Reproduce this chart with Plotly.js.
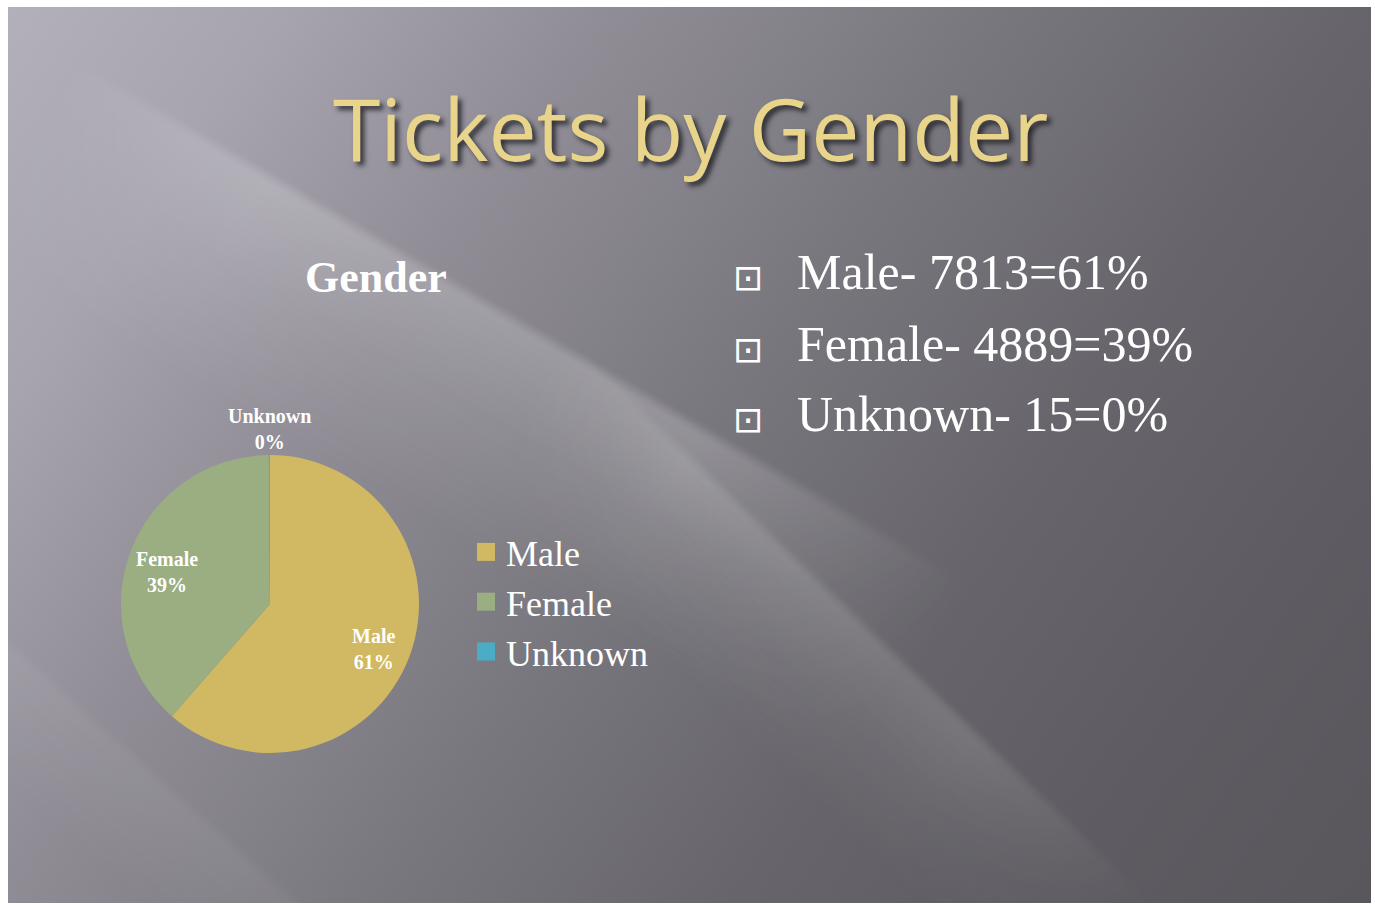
<!DOCTYPE html>
<html>
<head>
<meta charset="utf-8">
<script src="https://cdn.plot.ly/plotly-3.0.1.min.js"></script>
<style>
  html, body { margin: 0; padding: 0; background: #ffffff; }
  #slide {
    position: absolute; left: 8px; top: 7px; width: 1363px; height: 896px; overflow: hidden;
    background: linear-gradient(125deg, #b3b0bb 0%, #a7a4af 14%, #908d96 30%, #79777e 50%, #67656b 68%, #5e5c62 84%, #59575c 100%);
  }
  .streak {
    position: absolute; transform-origin: 0 0;
    -webkit-mask-image: linear-gradient(to right, transparent 0%, #000 22%, #000 70%, transparent 100%);
    mask-image: linear-gradient(to right, transparent 0%, #000 22%, #000 70%, transparent 100%);
    filter: blur(2px);
  }
  #s1 { left: 60px; top: 45px; width: 1050px; height: 230px; transform: rotate(30.3deg);
        background: linear-gradient(to bottom, rgba(255,255,255,0) 0%, rgba(255,255,255,0.20) 5%, rgba(255,255,255,0.09) 45%, rgba(255,255,255,0) 100%); }
  #s2 { left: 560px; top: 325px; width: 820px; height: 170px; transform: rotate(44deg);
        background: linear-gradient(to bottom, rgba(255,255,255,0) 0%, rgba(255,255,255,0.13) 6%, rgba(255,255,255,0.05) 50%, rgba(255,255,255,0) 100%); }
  #s3 { left: -120px; top: 520px; width: 700px; height: 120px; transform: rotate(42deg);
        background: linear-gradient(to bottom, rgba(255,255,255,0) 0%, rgba(255,255,255,0.06) 10%, rgba(255,255,255,0) 100%); }
  #chart { position: absolute; left: 0; top: 0; width: 1375px; height: 905px; }
</style>
</head>
<body>
<div id="slide">
  <div class="streak" id="s1"></div>
  <div class="streak" id="s2"></div>
  <div class="streak" id="s3"></div>
</div>
<div id="chart"></div>
<script>
// Data
const categories = ['Male', 'Female', 'Unknown'];
const tickets = [7813, 4889, 15];
const shownPercent = ['61%', '39%', '0%'];
const sliceColors = ['#d1b862', '#9bae82', '#4bacc6'];
const bulletLines = ['Male- 7813=61%', 'Female- 4889=39%', 'Unknown- 15=0%'];

const W = 1375, H = 905;
const cx = 270, cy = 604, r = 149;

const pie = {
  type: 'pie',
  labels: categories,
  values: tickets,
  textinfo: 'none',
  sort: false,
  direction: 'clockwise',
  rotation: 0,
  marker: { colors: sliceColors, line: { width: 0 } },
  domain: { x: [(cx - r) / W, (cx + r) / W], y: [(H - cy - r) / H, (H - cy + r) / H] },
  hoverinfo: 'label+value+percent',
  showlegend: true
};

const serif = 'Liberation Serif, DejaVu Serif, serif';
const annotations = [
  {
    text: 'Tickets by Gender', x: 690 / W, y: 1 - 127 / H, xref: 'paper', yref: 'paper',
    showarrow: false, xanchor: 'center', yanchor: 'middle',
    font: { family: 'Open Sans, Lato, sans-serif', size: 86, color: '#e8d58b', shadow: '4px 4px 5px rgba(20,20,25,0.75)' }
  },
  {
    text: '<b>Gender</b>', x: 376 / W, y: 1 - 277 / H, xref: 'paper', yref: 'paper',
    showarrow: false, xanchor: 'center', yanchor: 'middle',
    font: { family: serif, size: 44, color: '#ffffff' }
  }
];

// slice labels, placed at each slice's mid-angle (derived from the data)
const total = tickets.reduce((a, b) => a + b, 0);
let cum = 0;
tickets.forEach((v, i) => {
  const frac = v / total;
  const mid = (cum + frac / 2) * 2 * Math.PI;
  cum += frac;
  const dist = frac < 0.05 ? r + 26 : 0.74 * r;
  const px = cx + dist * Math.sin(mid);
  const py = cy - dist * Math.cos(mid) + (frac < 0.05 ? 0 : 6);
  annotations.push({
    text: '<b>' + categories[i] + '</b><br><b>' + shownPercent[i] + '</b>',
    x: px / W, y: 1 - py / H, xref: 'paper', yref: 'paper',
    showarrow: false, xanchor: 'center', yanchor: 'middle',
    font: { family: serif, size: 20, color: '#ffffff' }
  });
});

const bulletY = [272, 344, 414];
bulletLines.forEach((t, i) => {
  annotations.push({
    text: '⊡', x: 748 / W, y: 1 - (bulletY[i] + 5) / H, xref: 'paper', yref: 'paper',
    showarrow: false, xanchor: 'center', yanchor: 'middle',
    font: { family: 'DejaVu Sans, sans-serif', size: 36, color: '#ffffff' }
  });
  annotations.push({
    text: t, x: 795 / W, y: 1 - bulletY[i] / H, xref: 'paper', yref: 'paper',
    showarrow: false, xanchor: 'left', yanchor: 'middle',
    font: { family: serif, size: 50, color: '#ffffff' }
  });
});

const layout = {
  width: W, height: H,
  margin: { l: 0, r: 0, t: 0, b: 0 },
  paper_bgcolor: 'rgba(0,0,0,0)',
  plot_bgcolor: 'rgba(0,0,0,0)',
  showlegend: true,
  legend: {
    x: 466 / W, y: 1 - 602 / H, xanchor: 'left', yanchor: 'middle',
    bgcolor: 'rgba(0,0,0,0)',
    font: { family: serif, size: 36, color: '#ffffff' },
    itemwidth: 30
  },
  annotations: annotations
};

Plotly.newPlot('chart', [pie], layout, { displayModeBar: false, staticPlot: true }).then(gd => {
  // enlarge the legend swatches to match the reference's square markers
  gd.querySelectorAll('.legend .legendpoints path').forEach(p => {
    p.setAttribute('d', 'M9,9H-9V-9H9Z');
  });
});
</script>
</body>
</html>
